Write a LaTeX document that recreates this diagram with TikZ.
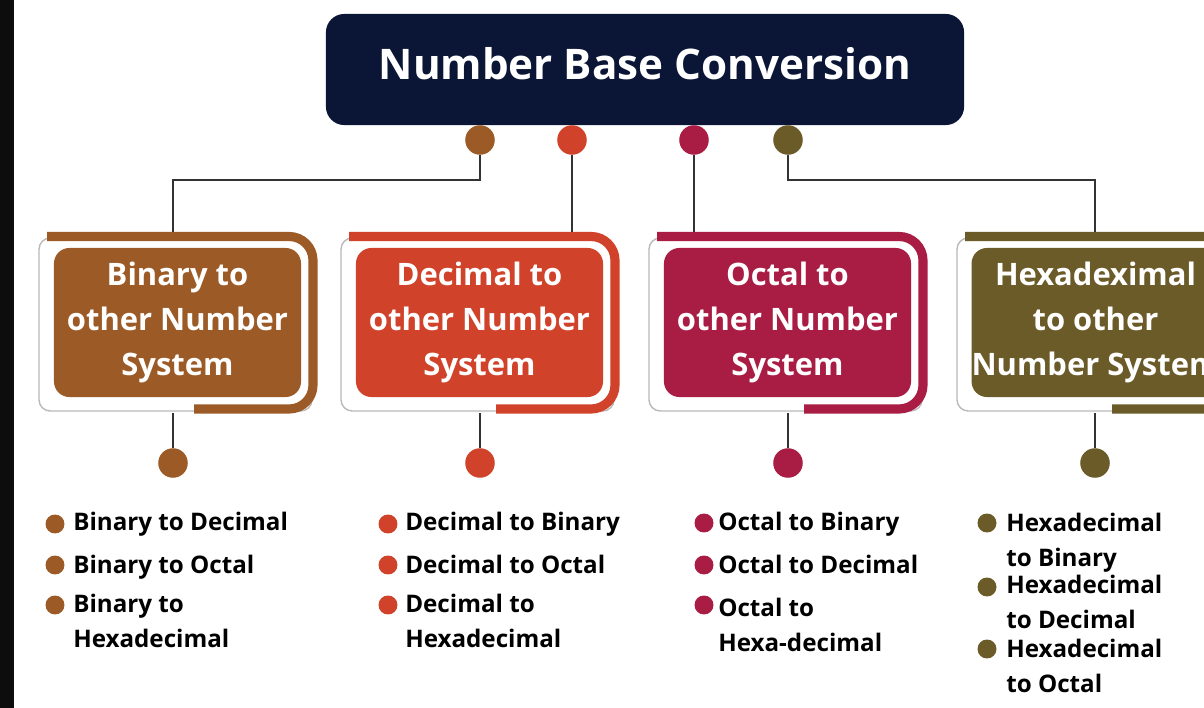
\documentclass[tikz,border=0pt]{standalone}
\usepackage{fontspec}
\setmainfont{Open Sans}
\usepackage{xcolor}

\definecolor{navy}{HTML}{0B1535}
\definecolor{binbrown}{HTML}{9C5A26}
\definecolor{decred}{HTML}{D0422A}
\definecolor{octcrimson}{HTML}{A91C44}
\definecolor{hexolive}{HTML}{6B5B28}
\definecolor{wire}{HTML}{333333}

\tikzset{
  conn/.style={draw=wire, line width=1.3pt},
  bigdot/.style={circle, fill=#1, minimum size=21pt, inner sep=0pt},
  bullet/.style={circle, fill=#1, minimum size=13.5pt, inner sep=0pt},
  inbox/.style={rectangle, rounded corners=11pt, fill=#1, minimum width=175.7pt,
    minimum height=106pt, text=white, align=center, inner sep=0pt,
    font=\fontsize{22}{32}\selectfont\bfseries},
  itm/.style={anchor=base west, align=left, inner sep=0pt,
    font=\fontsize{17.2}{24.2}\selectfont\bfseries},
}

\begin{document}
\begin{tikzpicture}[x=0.025cm, y=-0.025cm]
    % Canvas
    \useasboundingbox (0,0) rectangle (1204,708);
    \clip (0,0) rectangle (1204,708);
    \fill[black!95] (0,0) rectangle (14,708);

    % Title
    \node[rectangle, rounded corners=13pt, fill=navy, minimum width=453.8pt,
          minimum height=79pt, text depth=9pt, text=white,
          font=\fontsize{30}{36}\selectfont\bfseries] (title) at (645,69.5)
          {Number Base Conversion};

    % Dots under the title
    \foreach \n/\x/\c in {1/480/binbrown, 2/572/decred, 3/694/octcrimson, 4/788/hexolive} {
        \node[bigdot=\c] (td\n) at (\x,140) {};
    }

    % The four cards
    \foreach \n/\L/\c/\txt in {1/40/binbrown/{Binary to\\other Number\\System},
                               2/342/decred/{Decimal to\\other Number\\System},
                               3/650/octcrimson/{Octal to\\other Number\\System},
                               4/958/hexolive/{Hexadeximal\\to other\\Number System}} {
        % white card with grey rim
        \draw[gray!55, line width=1pt, fill=white, rounded corners=8pt]
            (\L-1,238) rectangle (\L+272,411);
        % coloured bracket round it
        \draw[\c, line width=6.5pt, rounded corners=17pt]
            (\L+7,236.5) -- (\L+273,236.5) -- (\L+273,409) -- (\L+154,409);
        \node[inbox=\c] (box\n) at (\L+137.5,322.5) {\txt};
    }

    % Wires from the title dots to the cards
    \coordinate (elb1) at (173,180);
    \coordinate (top1) at (173,232);
    \coordinate (top2) at (572,232);
    \coordinate (top3) at (694,232);
    \coordinate (elb4) at (1095,180);
    \coordinate (top4) at (1095,232);
    \draw[conn] (td1) |- (elb1) -- (top1);
    \draw[conn] (td2) -- (top2);
    \draw[conn] (td3) -- (top3);
    \draw[conn] (td4) |- (elb4) -- (top4);

    % Wires from the cards down to the list dots
    \foreach \n/\x/\c in {1/173/binbrown, 2/480/decred, 3/788/octcrimson, 4/1095/hexolive} {
        \coordinate (bot\n) at (\x,413);
        \node[bigdot=\c] (bd\n) at (\x,463) {};
        \draw[conn] (bot\n) -- (bd\n);
    }

    % Bullet lists (text placed on the baseline of its last line)
    \foreach \n/\bx/\tx/\by/\ty/\c/\txt in {
        a1/55/73/524/530/binbrown/{Binary to Decimal},
        a2/55/73/565/573/binbrown/{Binary to Octal},
        a3/55/73/605/647/binbrown/{Binary to\\Hexadecimal},
        b1/388/405/524/530/decred/{Decimal to Binary},
        b2/388/405/565/573/decred/{Decimal to Octal},
        b3/388/405/605/647/decred/{Decimal to\\Hexadecimal},
        c1/704/718/523/530/octcrimson/{Octal to Binary},
        c2/704/718/565/573/octcrimson/{Octal to Decimal},
        c3/704/718/605/651/octcrimson/{Octal to\\Hexa-decimal},
        d1/987/1006/523/566/hexolive/{Hexadecimal\\to Binary},
        d2/987/1006/587/628/hexolive/{Hexadecimal\\to Decimal},
        d3/987/1006/649/692/hexolive/{Hexadecimal\\to Octal}} {
        \node[bullet=\c] (p\n) at (\bx,\by) {};
        \node[itm] (q\n) at (\tx,\ty) {\txt};
    }
\end{tikzpicture}
\end{document}
